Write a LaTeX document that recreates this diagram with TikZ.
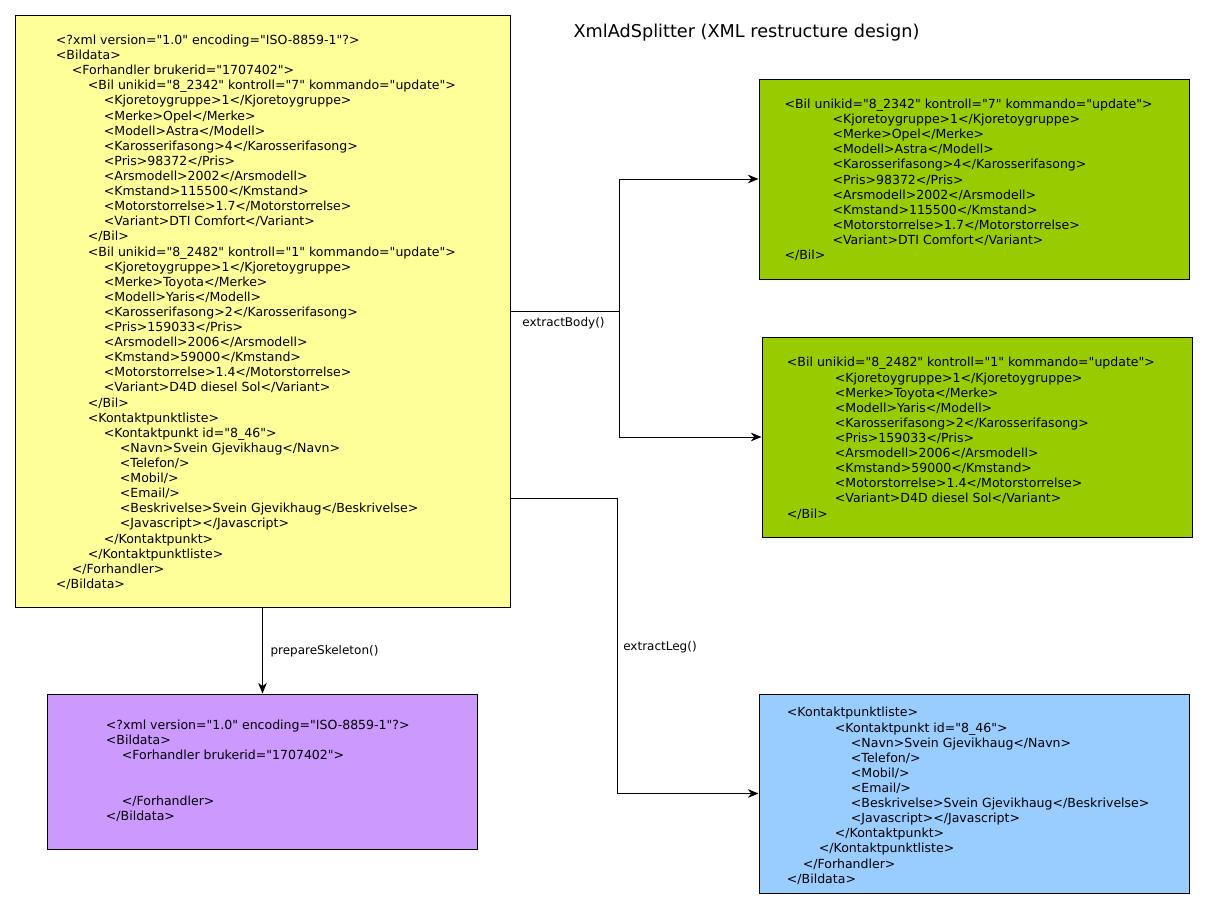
\documentclass[tikz,border=0pt]{standalone}
\usepackage{fontspec}
\setmainfont{DejaVu Sans}[Ligatures=TeXOff]
\usetikzlibrary{arrows.meta,fit}
\newcommand\I[1]{\strut\hspace*{\numexpr#1*12\relax pt}}
\definecolor{yelfill}{HTML}{FFFF99}
\definecolor{grnfill}{HTML}{99CC00}
\definecolor{purfill}{HTML}{CC99FF}
\definecolor{blufill}{HTML}{99CCFF}
\begin{document}
\begin{tikzpicture}[x=0.75pt,y=-0.75pt,
 box/.style={draw=black, line width=0.75pt, inner sep=0pt},
 xmltext/.style={anchor=north west, inner sep=0pt, align=left, font=\fontsize{9.4}{11.33}\selectfont},
 lbl/.style={inner sep=0pt, font=\fontsize{9}{11}\selectfont},
 ttl/.style={inner sep=0pt, font=\fontsize{13.25}{16}\selectfont},
 conn/.style={draw=black, line width=0.75pt},
 arr/.style={conn, -{Stealth[length=8pt,width=6.5pt]}}]
\useasboundingbox (0,0) rectangle (1208,910);
\fill[white] (0,0) rectangle (1208,910);

\node[ttl] (title) at (746.5,33) {XmlAdSplitter (XML restructure design)};

\node[box, fill=yelfill, fit={(15,15) (510,607)}] (yel) {};
\node[box, fill=grnfill, fit={(759,79) (1189,279)}] (grn1) {};
\node[box, fill=grnfill, fit={(762,337) (1192,537)}] (grn2) {};
\node[box, fill=purfill, fit={(47,694) (477,849)}] (pur) {};
\node[box, fill=blufill, fit={(759,694) (1189,893)}] (blu) {};

\node[xmltext] (tyel) at (55.7,33.7) {%
\I0<?xml version="1.0" encoding="ISO-8859-1"?>\\
\I0<Bildata>\\
\I1<Forhandler brukerid="1707402">\\
\I2<Bil unikid="8\_2342" kontroll="7" kommando="update">\\
\I3<Kjoretoygruppe>1</Kjoretoygruppe>\\
\I3<Merke>Opel</Merke>\\
\I3<Modell>Astra</Modell>\\
\I3<Karosserifasong>4</Karosserifasong>\\
\I3<Pris>98372</Pris>\\
\I3<Arsmodell>2002</Arsmodell>\\
\I3<Kmstand>115500</Kmstand>\\
\I3<Motorstorrelse>1.7</Motorstorrelse>\\
\I3<Variant>DTI Comfort</Variant>\\
\I2</Bil>\\
\I2<Bil unikid="8\_2482" kontroll="1" kommando="update">\\
\I3<Kjoretoygruppe>1</Kjoretoygruppe>\\
\I3<Merke>Toyota</Merke>\\
\I3<Modell>Yaris</Modell>\\
\I3<Karosserifasong>2</Karosserifasong>\\
\I3<Pris>159033</Pris>\\
\I3<Arsmodell>2006</Arsmodell>\\
\I3<Kmstand>59000</Kmstand>\\
\I3<Motorstorrelse>1.4</Motorstorrelse>\\
\I3<Variant>D4D diesel Sol</Variant>\\
\I2</Bil>\\
\I2<Kontaktpunktliste>\\
\I3<Kontaktpunkt id="8\_46">\\
\I4<Navn>Svein Gjevikhaug</Navn>\\
\I4<Telefon/>\\
\I4<Mobil/>\\
\I4<Email/>\\
\I4<Beskrivelse>Svein Gjevikhaug</Beskrivelse>\\
\I4<Javascript></Javascript>\\
\I3</Kontaktpunkt>\\
\I2</Kontaktpunktliste>\\
\I1</Forhandler>\\
\I0</Bildata>};

\node[xmltext] (tgrn1) at (784.3,97.7) {%
\I0<Bil unikid="8\_2342" kontroll="7" kommando="update">\\
\I3<Kjoretoygruppe>1</Kjoretoygruppe>\\
\I3<Merke>Opel</Merke>\\
\I3<Modell>Astra</Modell>\\
\I3<Karosserifasong>4</Karosserifasong>\\
\I3<Pris>98372</Pris>\\
\I3<Arsmodell>2002</Arsmodell>\\
\I3<Kmstand>115500</Kmstand>\\
\I3<Motorstorrelse>1.7</Motorstorrelse>\\
\I3<Variant>DTI Comfort</Variant>\\
\I0</Bil>};

\node[xmltext] (tgrn2) at (786.7,356.1) {%
\I0<Bil unikid="8\_2482" kontroll="1" kommando="update">\\
\I3<Kjoretoygruppe>1</Kjoretoygruppe>\\
\I3<Merke>Toyota</Merke>\\
\I3<Modell>Yaris</Modell>\\
\I3<Karosserifasong>2</Karosserifasong>\\
\I3<Pris>159033</Pris>\\
\I3<Arsmodell>2006</Arsmodell>\\
\I3<Kmstand>59000</Kmstand>\\
\I3<Motorstorrelse>1.4</Motorstorrelse>\\
\I3<Variant>D4D diesel Sol</Variant>\\
\I0</Bil>};

\node[xmltext] (tpur) at (105.7,718.7) {%
\I0<?xml version="1.0" encoding="ISO-8859-1"?>\\
\I0<Bildata>\\
\I1<Forhandler brukerid="1707402">\\
\I0\\
\I0\\
\I1</Forhandler>\\
\I0</Bildata>};

\node[xmltext] (tblu) at (786.7,706.1) {%
\I0<Kontaktpunktliste>\\
\I3<Kontaktpunkt id="8\_46">\\
\I4<Navn>Svein Gjevikhaug</Navn>\\
\I4<Telefon/>\\
\I4<Mobil/>\\
\I4<Email/>\\
\I4<Beskrivelse>Svein Gjevikhaug</Beskrivelse>\\
\I4<Javascript></Javascript>\\
\I3</Kontaktpunkt>\\
\I2</Kontaktpunktliste>\\
\I1</Forhandler>\\
\I0</Bildata>};

\coordinate (jb) at (619,311);
\coordinate (jl) at (617,498);
\draw[conn] (yel.east |- jb) -- (jb);
\draw[arr] (jb) |- (grn1.west);
\draw[arr] (jb) |- (grn2.west);
\draw[arr] (yel.east |- jl) -- (jl) |- (blu.west);
\draw[arr] (yel.south) -- (yel.south |- pur.north);

\node[lbl] (lbody) at (563.5,323.3) {extractBody()};
\node[lbl] (lleg) at (660,646.7) {extractLeg()};
\node[lbl] (lskel) at (324.5,650.7) {prepareSkeleton()};
\end{tikzpicture}
\end{document}
